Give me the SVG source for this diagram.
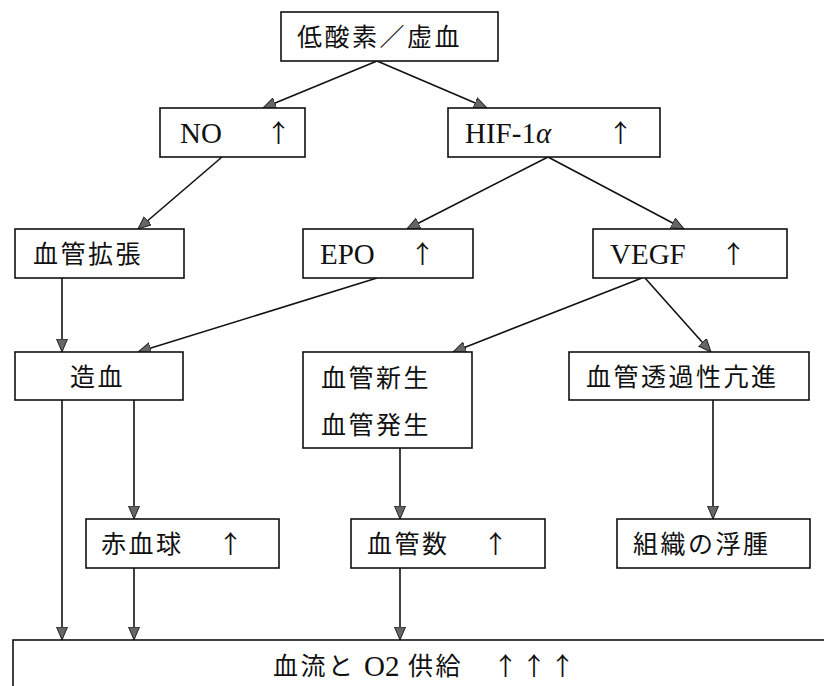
<svg xmlns="http://www.w3.org/2000/svg" width="824" height="686" viewBox="0 0 824 686">
<style>
.box{fill:#fff;stroke:#111;stroke-width:1.6}
.t{font-family:"Liberation Serif","Noto Sans CJK JP",serif;font-size:25px;fill:#111;letter-spacing:2.5px}
.l{font-family:"Liberation Serif",serif;font-size:29px;fill:#111}
.a{font-family:"Noto Sans CJK JP",sans-serif;font-size:25px;fill:#111}
.c line{stroke:#111;stroke-width:1.6}
</style>
<defs>
<marker id="ah" markerUnits="userSpaceOnUse" markerWidth="14" markerHeight="12" viewBox="0 0 14 12" refX="13" refY="6" orient="auto">
<path d="M0,0.5 L13,6 L0,11.5 Z" fill="#666" stroke="#222" stroke-width="1"/>
</marker>
</defs>
<rect width="824" height="686" fill="#fff"/>
<g class="c">
<line x1="377" y1="61" x2="263" y2="108" marker-end="url(#ah)"/>
<line x1="377" y1="61" x2="487" y2="108" marker-end="url(#ah)"/>
<line x1="222" y1="157" x2="138" y2="229" marker-end="url(#ah)"/>
<line x1="548" y1="157" x2="407" y2="229" marker-end="url(#ah)"/>
<line x1="548" y1="157" x2="684" y2="229" marker-end="url(#ah)"/>
<line x1="62" y1="278" x2="62" y2="352" marker-end="url(#ah)"/>
<line x1="377" y1="278" x2="138" y2="352" marker-end="url(#ah)"/>
<line x1="642" y1="278" x2="453" y2="352" marker-end="url(#ah)"/>
<line x1="645" y1="278" x2="711" y2="352" marker-end="url(#ah)"/>
<line x1="62" y1="400" x2="62" y2="640" marker-end="url(#ah)"/>
<line x1="134" y1="400" x2="134" y2="519" marker-end="url(#ah)"/>
<line x1="134" y1="568" x2="134" y2="640" marker-end="url(#ah)"/>
<line x1="400" y1="448" x2="400" y2="519" marker-end="url(#ah)"/>
<line x1="400" y1="568" x2="400" y2="640" marker-end="url(#ah)"/>
<line x1="713" y1="400" x2="713" y2="519" marker-end="url(#ah)"/>
</g>
<g id="n-hypoxia"><rect class="box" x="281" y="12" width="217" height="49"/><text class="t" x="297" y="46">低酸素／虚血</text></g>
<g id="n-no"><rect class="box" x="160" y="108" width="145" height="49"/><text class="l" x="180" y="143">NO</text><text class="a" x="266" y="142">↑</text></g>
<g id="n-hif"><rect class="box" x="448" y="108" width="212" height="49"/><text class="l" x="465" y="143">HIF-1</text><text class="l" x="536" y="143" font-style="italic">α</text><text class="a" x="608" y="142">↑</text></g>
<g id="n-vasodil"><rect class="box" x="15" y="229" width="169" height="49"/><text class="t" x="33" y="263">血管拡張</text></g>
<g id="n-epo"><rect class="box" x="303" y="229" width="170" height="49"/><text class="l" x="320" y="264">EPO</text><text class="a" x="410" y="263">↑</text></g>
<g id="n-vegf"><rect class="box" x="593" y="229" width="194" height="49"/><text class="l" x="610" y="264">VEGF</text><text class="a" x="721" y="263">↑</text></g>
<g id="n-hemato"><rect class="box" x="15" y="352" width="168" height="48"/><text class="t" x="70" y="386">造血</text></g>
<g id="n-angio"><rect class="box" x="303" y="352" width="169" height="96"/><text class="t" x="321" y="387">血管新生</text><text class="t" x="321" y="434">血管発生</text></g>
<g id="n-perm"><rect class="box" x="569" y="352" width="240" height="48"/><text class="t" x="586" y="386">血管透過性亢進</text></g>
<g id="n-rbc"><rect class="box" x="86" y="519" width="193" height="49"/><text class="t" x="101" y="553">赤血球</text><text class="a" x="218" y="553">↑</text></g>
<g id="n-vessels"><rect class="box" x="351" y="519" width="194" height="49"/><text class="t" x="367" y="553">血管数</text><text class="a" x="483" y="553">↑</text></g>
<g id="n-edema"><rect class="box" x="617" y="519" width="193" height="49"/><text class="t" x="633" y="553">組織の浮腫</text></g>
<g id="n-flow"><rect class="box" x="13" y="640" width="830" height="80"/><text class="t" x="273" y="675">血流と</text><text class="l" x="364" y="676">O2</text><text class="t" x="408" y="675">供給</text><text class="a" x="493" y="675" letter-spacing="3.5">↑↑↑</text></g>
</svg>
